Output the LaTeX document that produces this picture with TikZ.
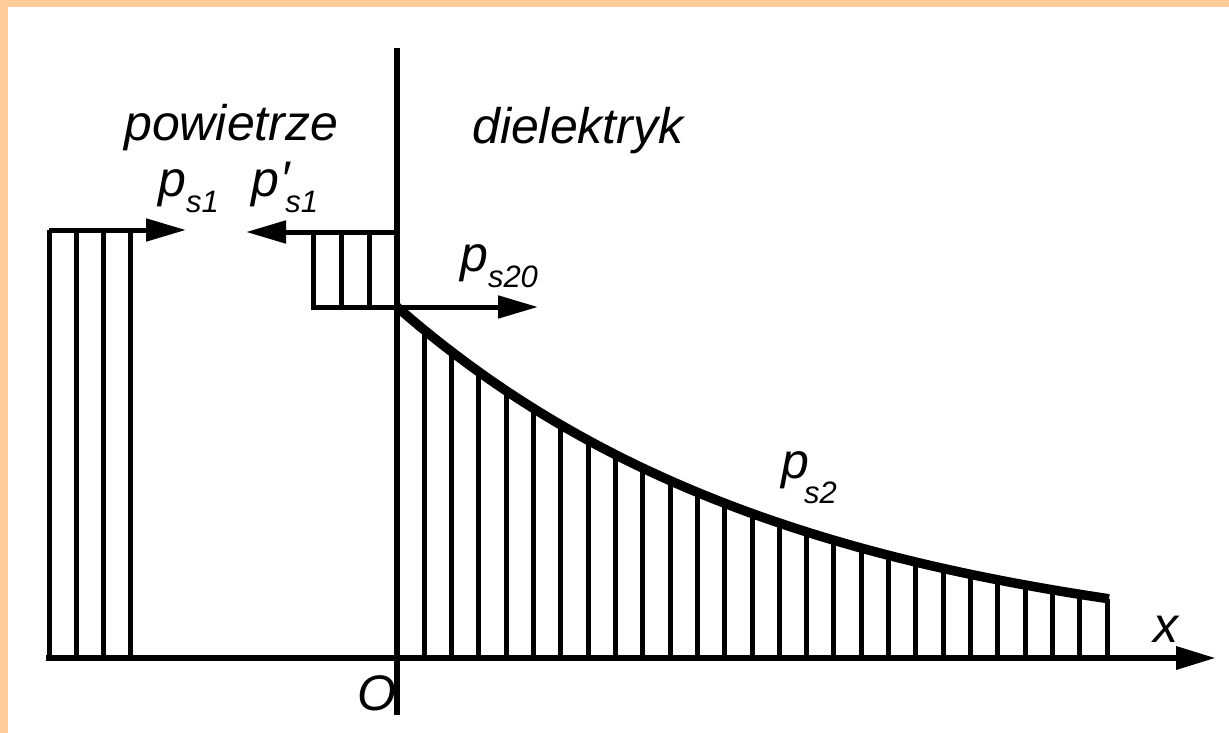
\documentclass[tikz,border=0pt]{standalone}
\usepackage{fontspec}
\setmainfont{Liberation Sans}
\usetikzlibrary{arrows.meta}

\definecolor{peach}{RGB}{255,204,153}
\newcommand{\lowsub}[2][-17pt]{\raisebox{#1}{\fontsize{31}{31}\selectfont #2}}

\begin{document}
\begin{tikzpicture}[x=1pt, y=-1pt, >={Triangle[length=40pt,width=22pt]},
    ax/.style={line width=6.5pt},
    hatch/.style={line width=5pt},
    lbl/.style={anchor=base west, inner sep=0pt, font=\fontsize{50}{60}\selectfont\itshape}]
        % Frame
        \fill[peach] (0,0) rectangle (1229,733);
        \fill[white] (8,7) rectangle (1229,733);
        \useasboundingbox (0,0) rectangle (1229,733);

        % Axes
        \draw[ax, ->] (46,658) -- (1216,658);
        \draw[ax] (397,48) -- (397,715);

        % Air side, block with arrow
        \draw[hatch] (49,658) -- (49,230);
        \foreach \xx in {76,103,130}
            \draw[hatch] (\xx,658) -- (\xx,230);
        \draw[hatch, ->] (49,230) -- (186,230);

        % Small block at the surface
        \draw[hatch] (313,232) -- (313,307) -- (397,307);
        \foreach \xx in {341,369}
            \draw[hatch] (\xx,307) -- (\xx,232);
        \draw[hatch, ->] (397,232) -- (246,232);
        \draw[hatch, ->] (397,307) -- (538,307);

        % Dielectric side, decaying curve
        \foreach \i in {1,...,26} {
            \pgfmathsetmacro\xx{397+\i*27.3077}
            \pgfmathsetmacro\yy{658-351*exp(-(\xx-397)/400)}
            \draw[hatch] (\xx,658) -- (\xx,\yy);
        }
        \draw[line width=9.5pt] plot[domain=397:1109, samples=60]
            (\x, {658-351*exp(-(\x-397)/400)});

        % Labels
        \node[lbl] (air) at (124,141) {powietrze};
        \node[lbl] (diel) at (472,144) {dielektryk};
        \node[lbl] (ps1) at (158,196) {p\lowsub{s1}};
        \node[lbl] (ps1p) at (251,196) {p\kern1pt\char"2032\kern-4pt\lowsub{s1}};
        \node[lbl] (ps20) at (460,271) {p\lowsub[-16pt]{s20}};
        \node[lbl] (ps2) at (781,478) {p\kern-5pt\lowsub[-25pt]{s2}};
        \node[lbl] (xlab) at (1153,642) {x};
        \node[lbl] (orig) at (357,710) {O};
    \end{tikzpicture}
\end{document}
